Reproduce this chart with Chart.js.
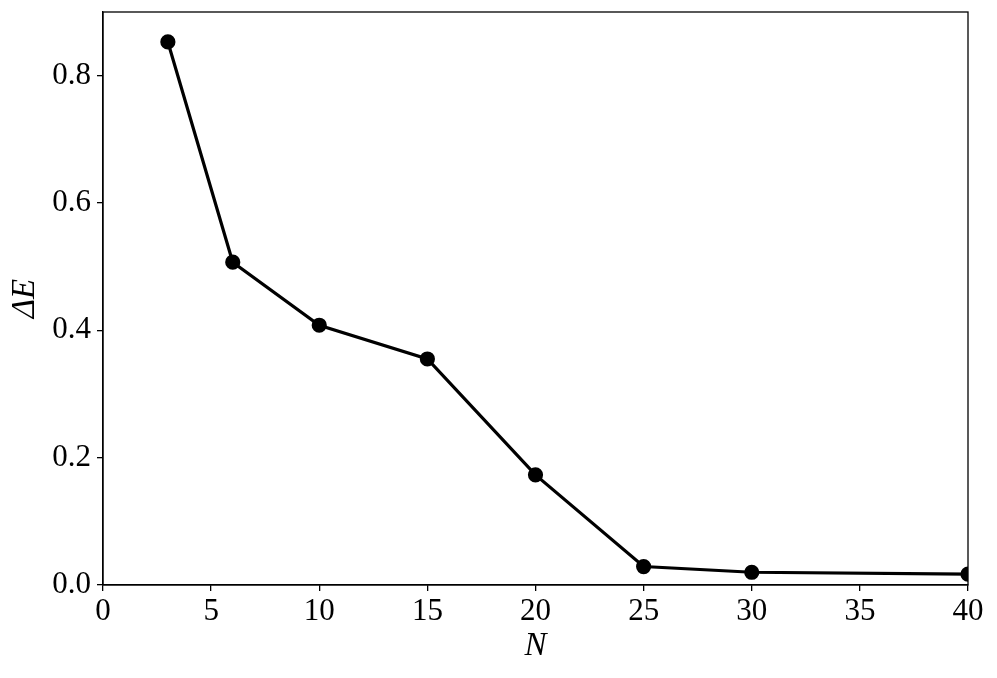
<!DOCTYPE html>
<html>
<head>
<meta charset="utf-8">
<script src="https://cdn.jsdelivr.net/npm/chart.js@4"></script>
<style>
  html, body { margin: 0; padding: 0; background: #fff; }
  #wrap { width: 997px; height: 678px; }
</style>
</head>
<body>
<div id="wrap"><canvas id="chart"></canvas></div>
<script>
// values
const nValues = [3, 6, 10, 15, 20, 25, 30, 40];
const deltaE = [0.853, 0.507, 0.408, 0.355, 0.173, 0.029, 0.020, 0.017];
const xTicks = [0, 5, 10, 15, 20, 25, 30, 35, 40];
const yTicks = [0.0, 0.2, 0.4, 0.6, 0.8];

const serif = "'Liberation Serif', 'DejaVu Serif', serif";

// frame around the plot area (matplotlib style box)
const frame = {
    id: 'frame',
    afterDraw(chart) {
        const a = chart.chartArea;
        const c = chart.ctx;
        c.save();
        c.strokeStyle = '#000';
        c.lineWidth = 1.3;
        c.strokeRect(a.left, a.top, a.right - a.left, a.bottom - a.top);
        c.restore();
    }
};

new Chart(document.getElementById('chart'), {
    type: 'line',
    data: {
        datasets: [{
            data: nValues.map((n, i) => ({ x: n, y: deltaE[i] })),
            borderColor: '#000',
            backgroundColor: '#000',
            borderWidth: 3.2,
            pointRadius: 6,
            pointHoverRadius: 6,
            tension: 0,
            clip: 0,
        }]
    },
    options: {
        responsive: true,
        maintainAspectRatio: false,
        animation: false,
        layout: { padding: { top: 12, right: 29, left: 0, bottom: 0 } },
        plugins: {
            legend: { display: false },
            tooltip: { enabled: false },
        },
        scales: {
            x: {
                type: 'linear',
                min: 0,
                max: 40,
                afterFit: (s) => { s.height = 93; s.paddingRight = 0; s.paddingLeft = 0; },
                afterBuildTicks: (s) => { s.ticks = xTicks.map(v => ({ value: v })); },
                grid: { drawOnChartArea: false, drawTicks: true, tickLength: 6, color: '#000', lineWidth: 1.3 },
                border: { display: true, color: '#000', width: 1.3 },
                ticks: { color: '#000', padding: 2, maxRotation: 0, font: { family: serif, size: 31 } },
                title: {
                    display: true,
                    text: 'N',
                    color: '#000',
                    padding: { top: 0, bottom: 12 },
                    font: { family: serif, size: 33, style: 'italic' },
                },
            },
            y: {
                type: 'linear',
                min: 0,
                max: 0.9,
                afterFit: (s) => { s.width = 103; s.paddingTop = 0; s.paddingBottom = 0; },
                afterBuildTicks: (s) => { s.ticks = yTicks.map(v => ({ value: v })); },
                grid: { drawOnChartArea: false, drawTicks: true, tickLength: 6, color: '#000', lineWidth: 1.3 },
                border: { display: true, color: '#000', width: 1.3 },
                ticks: {
                    color: '#000',
                    padding: 6,
                    font: { family: serif, size: 31 },
                    callback: (v) => v.toFixed(1),
                },
                title: {
                    display: true,
                    text: 'ΔE',
                    color: '#000',
                    padding: { top: 6, bottom: 0 },
                    font: { family: serif, size: 33, style: 'italic' },
                },
            },
        },
    },
    plugins: [frame],
});
</script>
</body>
</html>
